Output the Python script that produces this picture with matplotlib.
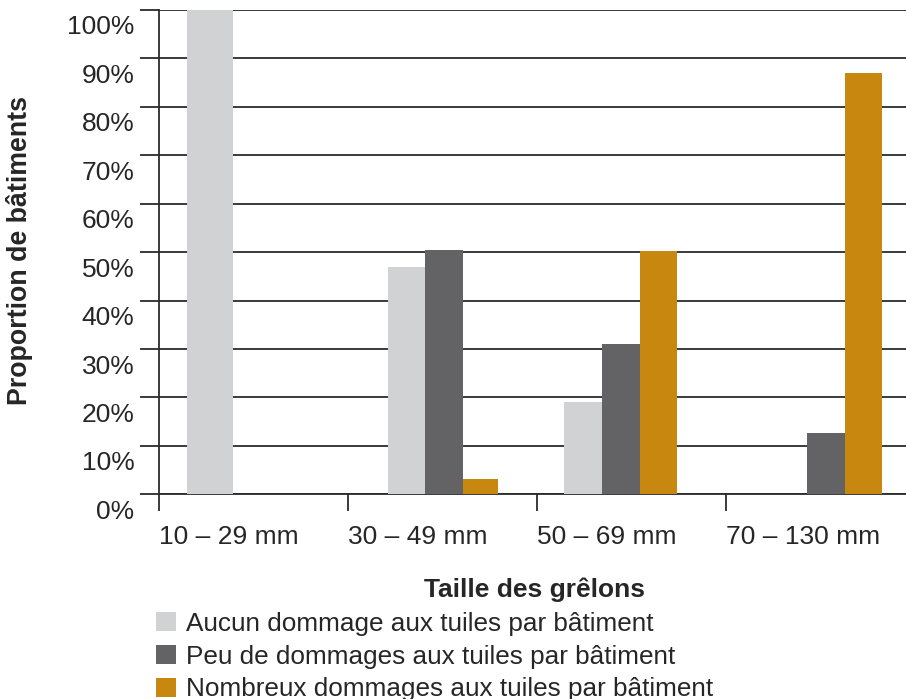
import matplotlib
matplotlib.use("Agg")
import matplotlib.pyplot as plt
from matplotlib.transforms import ScaledTranslation
from matplotlib.patches import Patch

categories = ["10 – 29 mm", "30 – 49 mm", "50 – 69 mm", "70 – 130 mm"]
series_names = [
    "Aucun dommage aux tuiles par bâtiment",
    "Peu de dommages aux tuiles par bâtiment",
    "Nombreux dommages aux tuiles par bâtiment",
]
aucun = [100, 47, 19, 0]
peu = [0, 50.5, 31, 12.7]
nombreux = [0, 3.2, 50.2, 87]
yticks = [0, 10, 20, 30, 40, 50, 60, 70, 80, 90, 100]
ytick_labels = [f"{v}%" for v in yticks]

colors = ["#d1d2d4", "#636365", "#c8870f"]
# layout: left edge of each bar (in category units) and bar width
bar_left = [
    [0.148, 1.210, 2.145, 3.228],
    [0.391, 1.410, 2.345, 3.428],
    [0.595, 1.606, 2.546, 3.629],
]
bar_width = [[0.243, 0.200, 0.200, 0.200],
             [0.200, 0.196, 0.201, 0.201],
             [0.200, 0.190, 0.196, 0.196]]

plt.rcParams['font.family'] = ['Liberation Sans', 'DejaVu Sans']
W, H = 906, 699
fig = plt.figure(figsize=(W / 100, H / 100), dpi=100)
ax = fig.add_axes([159 / W, (H - 494.3) / H, (906 - 159) / W, (494.3 - 10) / H])

gridc = "#2b2b2b"
txtc = "#262626"
for s, vals in enumerate([aucun, peu, nombreux]):
    for i, v in enumerate(vals):
        if v > 0:
            ax.bar(bar_left[s][i], v, width=bar_width[s][i], align='edge',
                   color=colors[s], zorder=3, linewidth=0)

ax.set_xlim(0, (906 - 159) / 189)
ax.set_ylim(0, 100)
ax.set_yticks(yticks)
ax.set_yticklabels(ytick_labels)
ax.yaxis.grid(True, color=gridc, linewidth=1.3, zorder=1)
ax.set_axisbelow(True)
ax.tick_params(axis='y', direction='out', length=19 * 0.72, width=1.3, color=gridc,
               labelsize=19, labelcolor=txtc, pad=4)
off = ScaledTranslation(0, -0.15, fig.dpi_scale_trans)
for lab in ax.get_yticklabels():
    lab.set_transform(lab.get_transform() + off)

ax.set_xticks(range(len(categories)))
ax.set_xticklabels(categories, ha='left')
ax.tick_params(axis='x', direction='out', length=17 * 0.72, width=1.3, color=gridc,
               labelsize=19, labelcolor=txtc, pad=10)

for sp in ["top", "right"]:
    ax.spines[sp].set_visible(False)
for sp in ["left", "bottom"]:
    ax.spines[sp].set_color(gridc)
    ax.spines[sp].set_linewidth(1.3)

fig.text(20 / W, 1 - 250 / H, "Proportion de bâtiments", rotation=90, ha='center',
         va='center', fontsize=19.3, fontweight='bold', color=txtc)
fig.text(535 / W, 1 - 590 / H, "Taille des grêlons", ha='center', va='center',
         fontsize=19, fontweight='bold', color=txtc)

handles = [Patch(facecolor=c, edgecolor='none') for c in colors]
fig.legend(handles, series_names, loc='upper left',
           bbox_to_anchor=(156 / W, 1 - 612 / H), frameon=False, fontsize=18.8,
           handlelength=0.75, handleheight=0.75, handletextpad=0.4,
           labelspacing=0.33, borderpad=0, borderaxespad=0, labelcolor=txtc)

fig.savefig("out.png", dpi=100)
